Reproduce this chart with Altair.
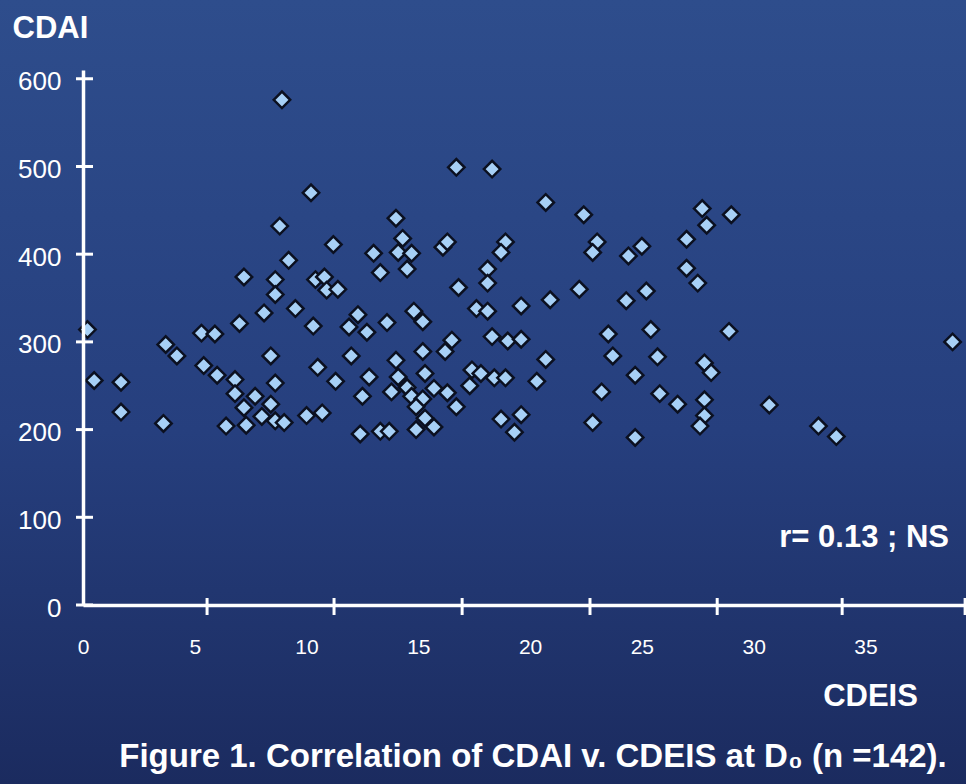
import altair as alt
import pandas as pd

# CDEIS (x) and CDAI (y) values
cdeis = [0.2, 0.5, 1.7, 1.7, 3.6, 3.7, 4.2, 5.3, 5.9, 7.0,
         5.4, 6.0, 6.8, 6.8, 6.4, 7.2, 7.3, 7.7, 8.0, 8.4,
         8.6, 9.0, 10.0, 8.6, 8.4, 8.1, 9.5, 7.2, 8.6, 8.6,
         9.2, 8.9, 8.8, 10.2, 16.7, 18.3, 14.0, 14.3, 14.1, 14.7,
         14.5, 13.0, 13.3, 11.2, 10.4, 10.8, 10.9, 11.4, 16.1, 16.3,
         18.9, 18.7, 18.1, 18.1, 16.8, 20.7, 10.3, 12.3, 11.9, 12.7,
         13.6, 14.8, 15.2, 17.6, 18.1, 19.6, 18.3, 19.0, 19.6, 16.5,
         16.2, 15.2, 14.0, 12.0, 10.5, 11.3, 12.8, 14.1, 13.8, 14.5,
         14.7, 15.2, 14.9, 15.3, 15.7, 16.3, 16.7, 12.5, 15.3, 15.7,
         14.9, 12.4, 13.3, 13.7, 10.7, 17.4, 17.8, 17.3, 18.4, 18.9,
         18.7, 19.6, 19.3, 22.4, 23.0, 22.8, 24.4, 25.0, 27.7, 27.9,
         29.0, 27.0, 27.0, 27.5, 22.2, 20.9, 24.3, 25.2, 23.5, 25.4,
         28.9, 20.7, 20.3, 23.7, 25.7, 24.7, 27.8, 28.1, 23.2, 25.8,
         26.6, 27.8, 27.8, 27.6, 22.8, 24.7, 30.7, 32.9, 33.7, 38.9]
cdai = [314, 256, 254, 220, 207, 297, 284, 310, 309, 321,
        273, 262, 257, 241, 204, 225, 205, 238, 215, 229,
        210, 208, 216, 253, 284, 333, 338, 374, 371, 354,
        393, 576, 432, 470, 499, 497, 441, 418, 402, 401,
        383, 401, 379, 411, 371, 374, 359, 360, 408, 414,
        414, 402, 383, 367, 362, 459, 318, 331, 317, 311,
        322, 335, 323, 338, 335, 341, 306, 301, 303, 302,
        289, 289, 279, 284, 271, 255, 260, 260, 243, 248,
        238, 235, 226, 264, 247, 242, 226, 238, 213, 203,
        200, 195, 198, 198, 219, 268, 264, 250, 259, 259,
        212, 217, 197, 445, 414, 402, 398, 409, 452, 433,
        445, 417, 384, 367, 360, 348, 347, 358, 309, 314,
        312, 280, 255, 284, 283, 262, 276, 265, 243, 241,
        229, 234, 216, 204, 208, 191, 228, 204, 192, 300]

x_tick_labels = [0, 5, 10, 15, 20, 25, 30, 35]
y_tick_labels = [0, 100, 200, 300, 400, 500, 600]
# positions of the cross tick marks drawn on the CDEIS axis in the reference
x_tick_marks = [5.55, 11.23, 16.96, 22.68, 28.37, 33.96, 39.46]

W, H = 883, 535
FONT = "Liberation Sans"

xs = alt.Scale(domain=[0, 39.5], nice=False, zero=False)
ys = alt.Scale(domain=[0, 610], nice=False, zero=False)

x_axis = alt.Axis(
    values=x_tick_labels, title="CDEIS", grid=False, ticks=False, zindex=1,
    domain=True, domainColor="white", domainWidth=3.5,
    labelColor="white", labelFont=FONT, labelFontSize=21, labelPadding=31,
    labelFlush=False,
    titleColor="white", titleFont=FONT, titleFontSize=31, titleFontWeight="bold",
    titleX=787, titleY=100, titleAlign="center", titleBaseline="alphabetic",
)
y_axis = alt.Axis(
    values=y_tick_labels, title="CDAI", grid=False, ticks=False, zindex=1,
    domain=True, domainColor="white", domainWidth=3.5,
    labelColor="white", labelFont=FONT, labelFontSize=26, labelPadding=22,
    labelOffset=3, labelFlush=False,
    titleColor="white", titleFont=FONT, titleFontSize=31, titleFontWeight="bold",
    titleAngle=0, titleX=-71, titleY=-33, titleAlign="left", titleBaseline="alphabetic",
)

one = pd.DataFrame({"k": [0]})

bg_grad = alt.Gradient(
    gradient="linear",
    stops=[alt.GradientStop(color="#2e4d8c", offset=0),
           alt.GradientStop(color="#263f7e", offset=0.55),
           alt.GradientStop(color="#1b2b5f", offset=1)],
    x1=0, x2=0, y1=0, y2=1,
)
background = alt.Chart(one).mark_rect(fill=bg_grad).encode(
    x=alt.value(-83), x2=alt.value(W), y=alt.value(-70), y2=alt.value(H + 179)
)

pts = pd.DataFrame({"CDEIS": cdeis, "CDAI": cdai})
points = alt.Chart(pts).mark_point(
    shape="diamond", filled=True, fill="#a7d0f6", stroke="#0b1020",
    strokeWidth=2.5, size=270, opacity=1,
).encode(
    x=alt.X("CDEIS:Q", scale=xs, axis=x_axis),
    y=alt.Y("CDAI:Q", scale=ys, axis=y_axis),
)

xt = pd.DataFrame({"CDEIS": x_tick_marks})
x_ticks = alt.Chart(xt).mark_rule(color="white", strokeWidth=3).encode(
    x=alt.X("CDEIS:Q", scale=xs, axis=x_axis),
    y=alt.value(H - 7), y2=alt.value(H + 10),
)
yt = pd.DataFrame({"CDAI": y_tick_labels})
y_ticks = alt.Chart(yt).mark_rule(color="white", strokeWidth=3).encode(
    y=alt.Y("CDAI:Q", scale=ys, axis=y_axis),
    x=alt.value(-7), x2=alt.value(10),
)

r_text = alt.Chart(one).mark_text(
    text="r= 0.13 ; NS", align="right", baseline="alphabetic",
    font=FONT, fontSize=31, fontWeight="bold", color="white",
).encode(x=alt.value(866), y=alt.value(477))

caption = alt.Chart(one).mark_text(
    text="Figure 1. Correlation of CDAI v. CDEIS at D\u2080 (n =142).",
    align="center", baseline="alphabetic",
    font=FONT, fontSize=33, fontWeight="bold", color="white",
).encode(x=alt.value(450), y=alt.value(697))

chart = alt.layer(background, x_ticks, y_ticks, points, r_text, caption).properties(
    width=W, height=H,
    autosize=alt.AutoSizeParams(type="none"),
    padding={"left": 83, "top": 70, "right": 0, "bottom": 179},
    background="#223a75",
).configure_view(strokeWidth=0)

chart.save("out.html", embed_options={"renderer": "svg", "actions": False})
